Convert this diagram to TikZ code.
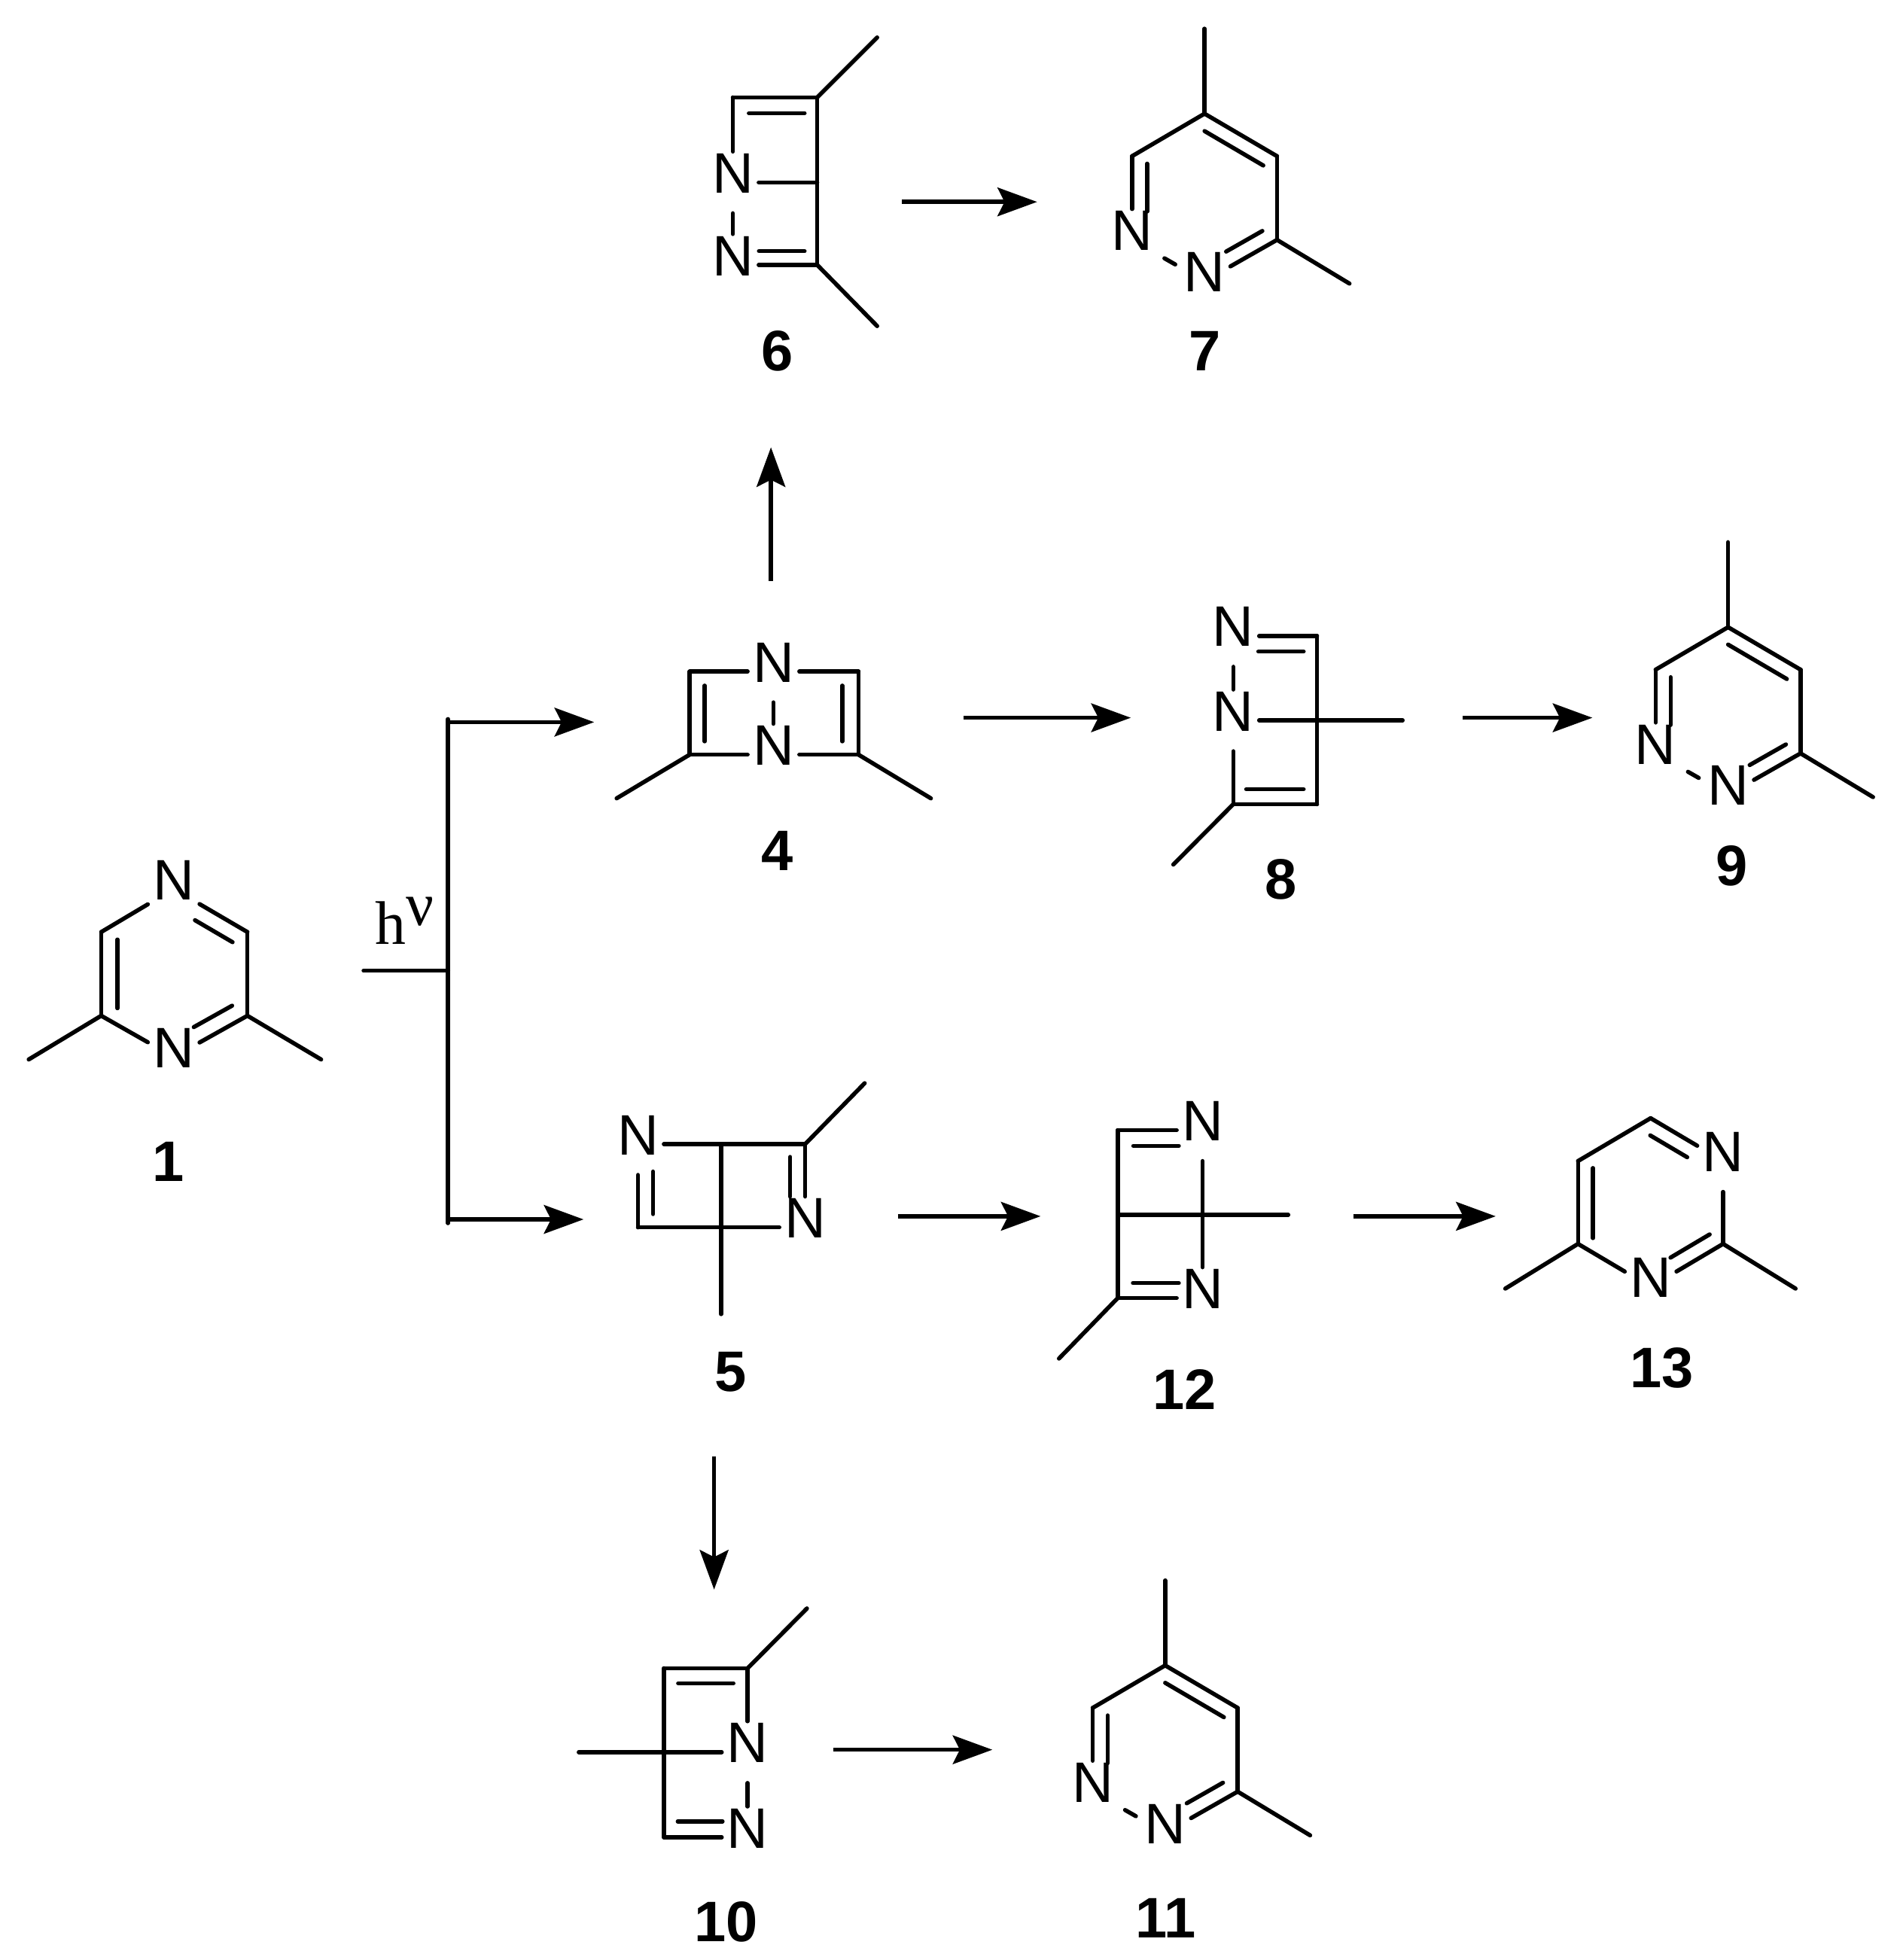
\documentclass[tikz,border=0pt]{standalone}
\usepackage{fontspec}
\setmainfont{Liberation Sans}
\newfontfamily\hvfont{Liberation Serif}
\usetikzlibrary{arrows.meta,calc}

\tikzset{
  bond/.style={line width=.95pt, line cap=round},
  rxn/.style={line width=.95pt, -{Stealth[length=9pt,width=6.5pt,inset=1.6pt]}},
  nitro/.style={inner sep=0pt, minimum width=.4cm, text height=.325cm, text depth=.155cm,
    font=\fontsize{13}{15}\selectfont},
  tag/.style={inner sep=0pt, font=\fontsize{13}{15}\selectfont\bfseries}
}

% inner line of a double bond: from a to b, between two fractions, on the left of a->b
\newcommand{\inbond}[5]{\draw[bond] ($(#1)!#3!(#2)!#5!90:(#2)$) -- ($(#1)!#4!(#2)!#5!90:(#2)$);}

\newcommand{\pyridazine}[3]{
\begin{scope}[shift={(#1,#2)}, name prefix=#3-]
\coordinate (ct) at (964,91);
\coordinate (mt) at (964,23);
\coordinate (cl) at (906,125);
\coordinate (cr) at (1022,125);
\coordinate (cb) at (1022,192);
\coordinate (mb) at (1080,227);
\node[nitro] (nl) at (906,192) {N};
\node[nitro] (nb) at (964,225) {N};
\path[bond] (ct) edge (mt) edge (cl) edge (cr)
  (cb) edge (cr) edge (mb) edge (nb)
  (nl) edge (cl) edge[shorten <=1.7pt, shorten >=.9pt] (nb);
\inbond{cr}{ct}{.085}{.895}{.12cm}
\inbond{cl}{nl}{.09}{.66}{.12cm}
\inbond{nb}{cb}{.4}{.9}{.12cm}
\end{scope}
}

\begin{document}
\begin{tikzpicture}[x=.01cm, y=-.01cm]
\useasboundingbox (0,0) rectangle (1520,1568.8);

% 1
\begin{scope}[name prefix=a-]
\node[nitro] (nt) at (139,711.5) {N};
\node[nitro] (nb) at (139,846) {N};
\coordinate (c1) at (81,746);
\coordinate (c2) at (81,813);
\coordinate (c3) at (198,746);
\coordinate (c4) at (198,813);
\coordinate (m1) at (23,848);
\coordinate (m2) at (257,848);
\path[bond] (c1) edge (nt) edge (c2)
  (c2) edge (nb) edge (m1)
  (c3) edge (nt) edge (c4)
  (c4) edge (nb) edge (m2);
\inbond{c1}{c2}{.09}{.91}{.13cm}
\inbond{c3}{nt}{.09}{.6}{.13cm}
\inbond{nb}{c4}{.38}{.9}{.13cm}
\end{scope}
\node[tag] (l1) at (135,930) {1};

% h nu and the branch
\node[inner sep=0pt, font=\fontsize{14}{15}\selectfont\hvfont] (hv) at (324,737) {h\raisebox{4.3pt}{ν}};
\coordinate (bs) at (291,777);
\coordinate (bm) at (358.6,777);
\coordinate (bt) at (358.6,578);
\coordinate (bb) at (358.6,976);
\coordinate (bt1) at (358.6,575.6);
\coordinate (bb1) at (358.6,979);
\coordinate (bt2) at (475.5,578);
\coordinate (bb2) at (467,976);
\path[bond] (bs) edge (bm) (bt1) edge (bb1);
\path[rxn] (bt) edge (bt2) (bb) edge (bb2);

% 4
\begin{scope}[name prefix=b-]
\node[nitro] (n1) at (619,537.5) {N};
\node[nitro] (n2) at (619,604) {N};
\coordinate (c1) at (552,537.5);
\coordinate (c2) at (552,604);
\coordinate (c3) at (687,537.5);
\coordinate (c4) at (687,604);
\coordinate (m1) at (493.5,639);
\coordinate (m2) at (745,639);
\path[bond] (c1) edge (n1) edge (c2)
  (c2) edge (n2) edge (m1)
  (c3) edge (n1) edge (c4)
  (c4) edge (n2) edge (m2)
  (n1) edge (n2);
\inbond{c1}{c2}{.17}{.84}{.12cm}
\inbond{c4}{c3}{.16}{.83}{.13cm}
\end{scope}
\node[tag] (l4) at (622,681) {4};

% 6
\begin{scope}[name prefix=d-]
\node[nitro] (n1) at (586.5,146) {N};
\node[nitro] (n2) at (586.5,212) {N};
\coordinate (c1) at (586.5,78);
\coordinate (c2) at (654,78);
\coordinate (cb) at (654,146);
\coordinate (c3) at (654,212);
\coordinate (m1) at (702,30);
\coordinate (m2) at (702,261);
\path[bond] (c1) edge (c2) edge (n1)
  (c2) edge (m1) edge (cb)
  (cb) edge (c3) edge (n1)
  (c3) edge (n2) edge (m2)
  (n1) edge (n2);
\inbond{c2}{c1}{.15}{.81}{.126cm}
\inbond{n2}{c3}{.31}{.85}{.11cm}
\end{scope}
\node[tag] (l6) at (622,281) {6};

% 7, 9, 11
\pyridazine{0}{0}{e}
\pyridazine{419}{411}{f}
\pyridazine{-31.5}{1242}{g}
\node[tag] (l7) at (964,281) {7};
\node[tag] (l9) at (1386,693) {9};
\node[tag] (l11) at (933,1535) {11};

% 8
\begin{scope}[name prefix=h-]
\node[nitro] (n1) at (987,509) {N};
\node[nitro] (n2) at (987,576.6) {N};
\coordinate (c1) at (1054,509);
\coordinate (c2) at (987,643.7);
\coordinate (c3) at (1054,643.7);
\coordinate (m1) at (939,692);
\coordinate (m2) at (1122.5,576.6);
\path[bond] (n1) edge (c1) edge (n2)
  (n2) edge (c2) edge (m2)
  (c3) edge (c1) edge (c2)
  (c2) edge (m1);
\inbond{c1}{n1}{.16}{.7}{.125cm}
\inbond{c2}{c3}{.155}{.84}{.12cm}
\end{scope}
\node[tag] (l8) at (1025,704) {8};

% 5
\begin{scope}[name prefix=i-]
\node[nitro] (n1) at (510.6,915.7) {N};
\node[nitro] (n2) at (644.4,982.4) {N};
\coordinate (cb) at (577,915.7);
\coordinate (c1) at (644.4,915.7);
\coordinate (c2) at (510.6,982.4);
\coordinate (m1) at (692,867);
\coordinate (m2) at (577,1051.8);
\path[bond] (n1) edge (c1) edge (c2)
  (c1) edge (m1) edge (n2)
  (cb) edge (m2)
  (n2) edge (c2);
\inbond{n2}{c1}{.37}{.845}{.12cm}
\inbond{n1}{c2}{.33}{.84}{.12cm}
\end{scope}
\node[tag] (l5) at (585,1098) {5};

% 12
\begin{scope}[name prefix=j-]
\node[nitro] (n1) at (962.4,904.6) {N};
\node[nitro] (n2) at (962.4,1039) {N};
\coordinate (c1) at (894.5,904.6);
\coordinate (cb) at (894.5,972.3);
\coordinate (c2) at (894.5,1039);
\coordinate (m1) at (1031,972.3);
\coordinate (m2) at (847.5,1087.4);
\path[bond] (c1) edge (n1) edge (c2)
  (cb) edge (m1)
  (c2) edge (n2) edge (m2)
  (n1) edge (n2);
\inbond{n1}{c1}{.28}{.815}{.125cm}
\inbond{c2}{n2}{.18}{.72}{.12cm}
\end{scope}
\node[tag] (l12) at (948,1112) {12};

% 13
\begin{scope}[name prefix=k-]
\node[nitro] (n1) at (1379,929.3) {N};
\node[nitro] (n2) at (1321,1030) {N};
\coordinate (ct) at (1321,895);
\coordinate (cl) at (1262.9,929.3);
\coordinate (cb) at (1262.9,995.6);
\coordinate (cr) at (1379,995.6);
\coordinate (m1) at (1204.7,1031.4);
\coordinate (m2) at (1437,1031.4);
\path[bond] (ct) edge (cl) edge (n1)
  (cl) edge (cb)
  (cb) edge (n2) edge (m1)
  (cr) edge (n2) edge (m2) edge (n1);
\inbond{n1}{ct}{.39}{.9}{.12cm}
\inbond{cl}{cb}{.085}{.93}{.12cm}
\inbond{n2}{cr}{.38}{.92}{.12cm}
\end{scope}
\node[tag] (l13) at (1330,1095) {13};

% 10
\begin{scope}[name prefix=o-]
\node[nitro] (n1) at (598.3,1402.4) {N};
\node[nitro] (n2) at (598.3,1470.6) {N};
\coordinate (c1) at (531.4,1335.3);
\coordinate (c2) at (598.3,1335.3);
\coordinate (c3) at (531.4,1470.6);
\coordinate (m1) at (645.8,1287.4);
\coordinate (m2) at (463.2,1402.4);
\path[bond] (c1) edge (c2) edge (c3)
  (c2) edge (m1) edge (n1)
  (n1) edge (n2) edge (m2)
  (n2) edge (c3);
\inbond{c2}{c1}{.17}{.83}{.12cm}
\inbond{c3}{n2}{.165}{.7}{.128cm}
\end{scope}
\node[tag] (l10) at (581,1538) {10};

% reaction arrows
\coordinate (r1) at (617,465);   \coordinate (r1e) at (617,358);
\coordinate (r2) at (722,161.6); \coordinate (r2e) at (830,161.6);
\coordinate (r3) at (771,574.5); \coordinate (r3e) at (905,574.5);
\coordinate (r4) at (1170.7,574.5); \coordinate (r4e) at (1274.4,574.5);
\coordinate (r5) at (718.7,973.5);  \coordinate (r5e) at (832.8,973.5);
\coordinate (r6) at (1082.9,973.5); \coordinate (r6e) at (1197,973.5);
\coordinate (r7) at (571.5,1165.7); \coordinate (r7e) at (571.5,1272.3);
\coordinate (r8) at (667,1400.5);   \coordinate (r8e) at (794.2,1400.5);
\path[rxn] (r1) edge (r1e)
  (r2) edge (r2e)
  (r3) edge (r3e)
  (r4) edge (r4e)
  (r5) edge (r5e)
  (r6) edge (r6e)
  (r7) edge (r7e)
  (r8) edge (r8e);
\end{tikzpicture}
\end{document}
